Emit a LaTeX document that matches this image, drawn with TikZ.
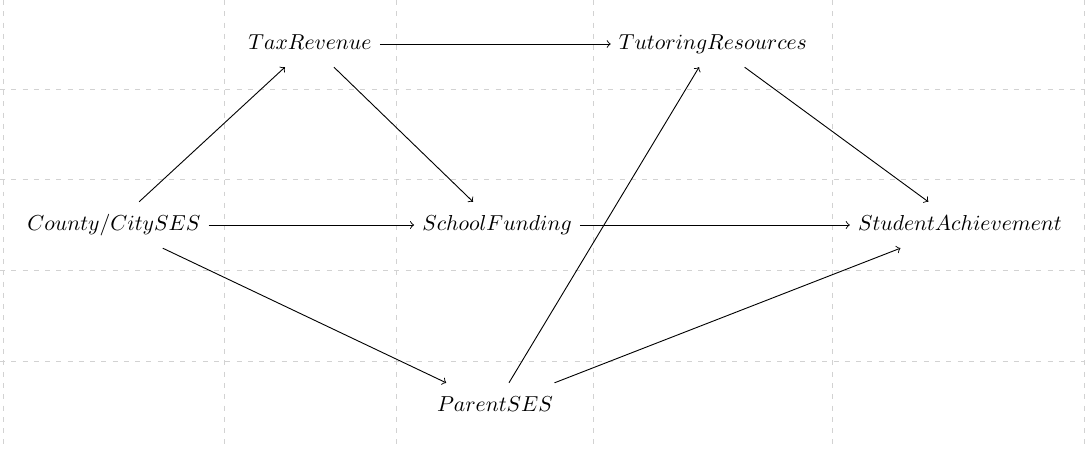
\documentclass[tikz,border=0pt]{standalone}
\begin{document}
\begin{tikzpicture}[x=0.4616pt,y=-0.4616pt,
  var/.style={inner xsep=3.6pt,inner ysep=3.6pt,text height=9.6pt,text depth=4.2pt},
  edge/.style={->,line width=0.42pt},
  gridline/.style={gray!35,line width=0.42pt,dash pattern=on 2.3pt off 2.9pt}]
\useasboundingbox (0,0) rectangle (1085,450);
\foreach \x in {3,224,396,593,832,1084.5} \draw[gridline] (\x,0) -- (\x,450);
\foreach \y in {89,179,270,361} \draw[gridline] (0,\y) -- (1085,\y);
\node[var] (tax) at (310,44) {$TaxRevenue$};
\node[var] (tut) at (713,44) {$TutoringResources$};
\node[var] (cty) at (114,225) {$County/CitySES$};
\node[var] (sch) at (497,225) {$SchoolFunding$};
\node[var] (stu) at (960,225) {$StudentAchievement$};
\node[var] (par) at (495,406) {$ParentSES$};
\draw[edge] (tax) -- (tut);
\draw[edge] (cty) -- (tax);
\draw[edge] (tax) -- (sch);
\draw[edge] (cty) -- (sch);
\draw[edge] (cty) -- (par);
\draw[edge] (sch) -- (stu);
\draw[edge] (tut) -- (stu);
\draw[edge] (par) -- (tut);
\draw[edge] (par) -- (stu);
\end{tikzpicture}
\end{document}
